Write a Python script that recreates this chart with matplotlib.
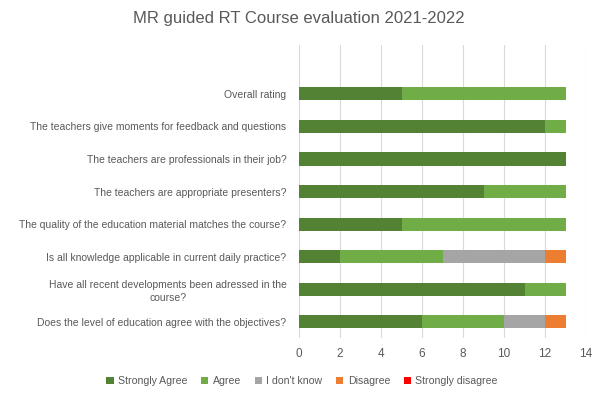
import numpy as np
import matplotlib
matplotlib.use("Agg")
from matplotlib import pyplot as plt

plt.rcParams['font.family'] = ['Liberation Sans', 'DejaVu Sans']

questions = ["Does the level of education agree with the objectives?",
             "Have all recent developments been adressed in the\ncourse?",
             "Is all knowledge applicable in current daily practice?",
             "The quality of the education material matches the course?",
             "The teachers are appropriate presenters?",
             "The teachers are professionals in their job?",
             "The teachers give moments for feedback and questions",
             "Overall rating"]
answers = ["Strongly Agree", "Agree", "I don't know", "Disagree", "Strongly disagree"]
strongly_agree = [6, 11, 2, 5, 9, 13, 12, 5]
agree = [4, 2, 5, 8, 4, 0, 1, 8]
dont_know = [2, 0, 5, 0, 0, 0, 0, 0]
disagree = [1, 0, 1, 0, 0, 0, 0, 0]
strongly_disagree = [0, 0, 0, 0, 0, 0, 0, 0]
colors = ["#548235", "#70AD47", "#A5A5A5", "#ED7D31", "#FF0000"]

series = [strongly_agree, agree, dont_know, disagree, strongly_disagree]

fig = plt.figure(figsize=(5.98, 3.95), dpi=100)
ax = fig.add_axes([0.5, 0.144, 0.48, 0.742])
y = np.arange(len(questions))
left = np.zeros(len(questions))
for name, vals, col in zip(answers, series, colors):
    ax.barh(y, vals, left=left, height=0.4, color=col, label=name, zorder=3)
    left += np.array(vals)

ax.set_xlim(0, 14)
ax.set_ylim(-0.5, len(questions) + 0.5)
ax.set_xticks(range(0, 15, 2))
ax.set_yticks(y)
ax.set_yticklabels(questions, multialignment='center', linespacing=1.35)
ax.grid(axis='x', color='#D9D9D9', linewidth=0.8, zorder=0)
for s in ax.spines.values():
    s.set_visible(False)
ax.tick_params(axis='both', length=0, colors='#595959')
ax.tick_params(axis='y', labelsize=7.5, pad=9)
ax.tick_params(axis='x', labelsize=8.5, pad=7)

fig.suptitle("MR guided RT Course evaluation 2021-2022", x=0.5, y=0.972,
             fontsize=12, color='#595959')
fig.legend(loc='center', bbox_to_anchor=(0.505, 0.035), ncol=5, frameon=False,
           fontsize=7.6, labelcolor='#595959', handlelength=0.7, handleheight=0.7,
           handletextpad=0.4, columnspacing=1.3)

fig.savefig("out.png", dpi=100)
